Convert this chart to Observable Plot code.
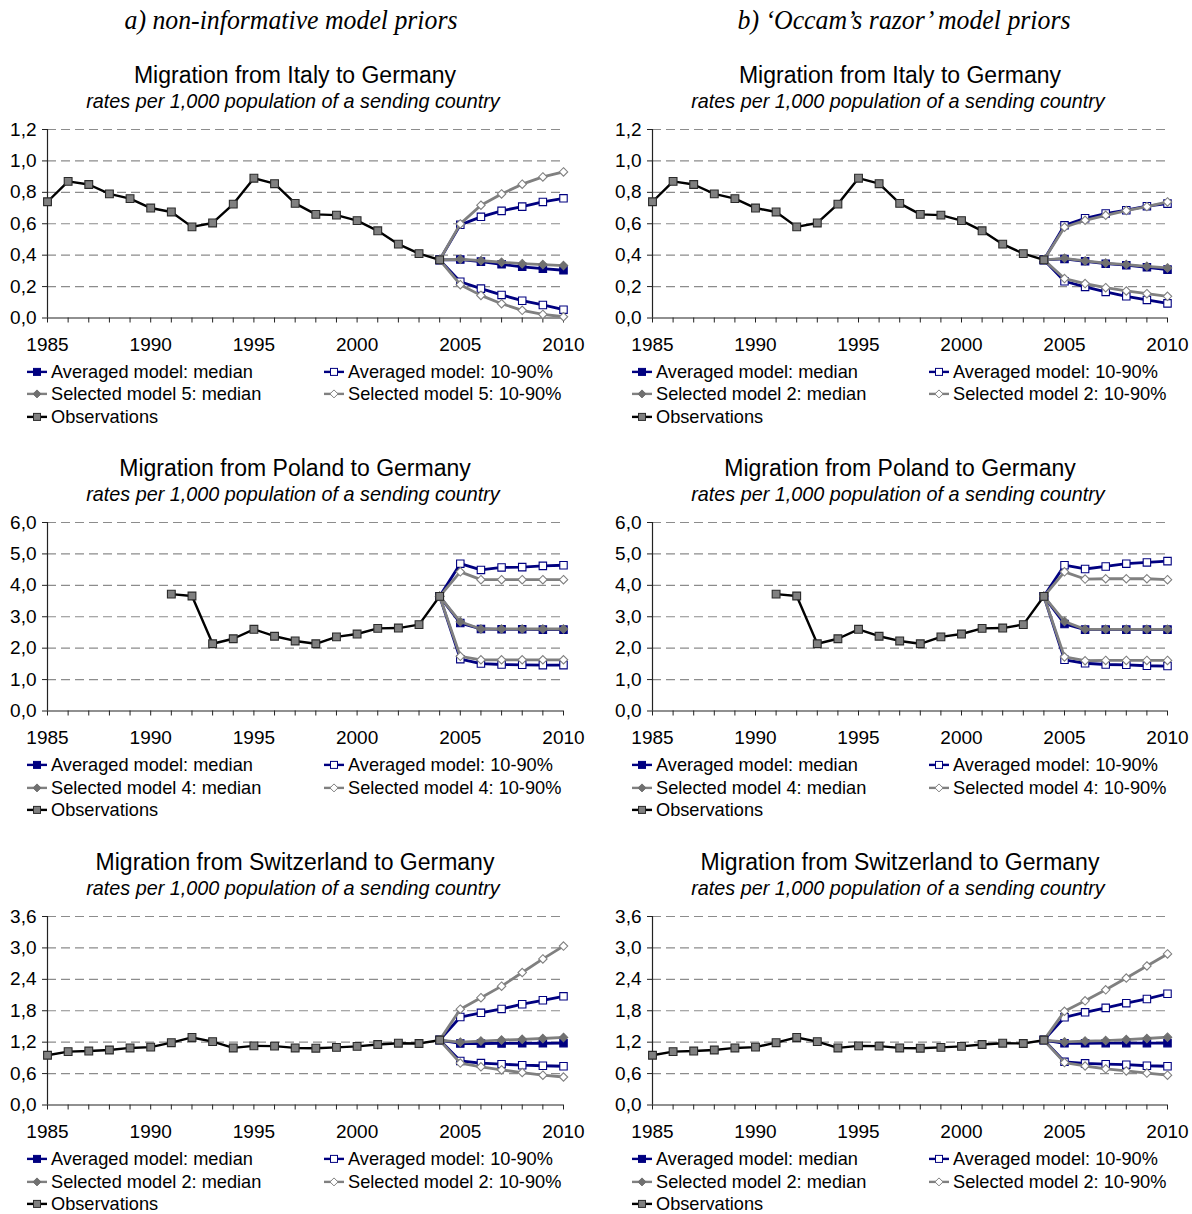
<!DOCTYPE html>
<html>
<head>
<meta charset="utf-8">
<script src="https://cdn.jsdelivr.net/npm/d3@7"></script>
<script src="https://cdn.jsdelivr.net/npm/@observablehq/plot@0.6"></script>
<style>
  body { margin: 0; background: #fff; }
  #page { position: relative; width: 1192px; height: 1214px; overflow: hidden;
          font-family: "Liberation Sans", Arial, sans-serif; color: #000; }
  .abs { position: absolute; }
  .title { font-size: 23px; white-space: nowrap; transform: translate(-50%, -50%); line-height: 1; }
  .subtitle { font-size: 19.8px; font-style: italic; white-space: nowrap; transform: translate(-50%, -50%); line-height: 1; }
  .legend-item { font-size: 18.2px; white-space: nowrap; display: flex; align-items: center; transform: translateY(-50%); line-height: 1; }
  .legend-item svg { margin-right: 4px; }
</style>
</head>
<body>
<div id="page"></div>
<script>
// Years
const obsYears = [1985, 1986, 1987, 1988, 1989, 1990, 1991, 1992, 1993, 1994,
                  1995, 1996, 1997, 1998, 1999, 2000, 2001, 2002, 2003, 2004];
const fcYears = [2005, 2006, 2007, 2008, 2009, 2010];
const allYears = [1985, 1986, 1987, 1988, 1989, 1990, 1991, 1992, 1993, 1994, 1995, 1996, 1997,
                  1998, 1999, 2000, 2001, 2002, 2003, 2004, 2005, 2006, 2007, 2008, 2009, 2010];

// Observed rates per 1,000 population
const italyObs  = [0.74, 0.87, 0.85, 0.79, 0.76, 0.70, 0.675, 0.58, 0.605, 0.725,
                   0.89, 0.855, 0.73, 0.66, 0.655, 0.62, 0.555, 0.47, 0.41, 0.37];
const polandObs = [null, null, null, null, null, null, 3.72, 3.66, 2.14, 2.30,
                   2.60, 2.38, 2.23, 2.14, 2.36, 2.45, 2.63, 2.64, 2.75, 3.65];
const swissObs  = [0.95, 1.02, 1.03, 1.05, 1.09, 1.105, 1.19, 1.29, 1.21, 1.09,
                   1.13, 1.125, 1.09, 1.085, 1.10, 1.12, 1.155, 1.18, 1.175, 1.24];

// Forecasts 2005-2010: Italy, non-informative priors
const italyA_avgMed = [0.372, 0.359, 0.342, 0.326, 0.314, 0.304];
const italyA_avgLo  = [0.231, 0.187, 0.147, 0.110, 0.083, 0.053];
const italyA_avgHi  = [0.593, 0.644, 0.682, 0.709, 0.739, 0.762];
const italyA_selMed = [0.374, 0.365, 0.355, 0.346, 0.340, 0.334];
const italyA_selLo  = [0.212, 0.144, 0.091, 0.049, 0.023, 0.008];
const italyA_selHi  = [0.599, 0.718, 0.790, 0.852, 0.898, 0.930];
// Italy, Occam's razor priors
const italyB_avgMed = [0.376, 0.361, 0.346, 0.336, 0.323, 0.308];
const italyB_avgLo  = [0.234, 0.198, 0.166, 0.138, 0.115, 0.093];
const italyB_avgHi  = [0.590, 0.635, 0.665, 0.686, 0.712, 0.728];
const italyB_selMed = [0.380, 0.363, 0.350, 0.340, 0.329, 0.319];
const italyB_selLo  = [0.251, 0.219, 0.193, 0.172, 0.155, 0.138];
const italyB_selHi  = [0.578, 0.622, 0.654, 0.684, 0.709, 0.739];

// Poland, non-informative priors
const polandA_avgMed = [2.80, 2.61, 2.60, 2.60, 2.59, 2.59];
const polandA_avgLo  = [1.65, 1.51, 1.48, 1.47, 1.46, 1.46];
const polandA_avgHi  = [4.69, 4.49, 4.57, 4.58, 4.62, 4.64];
const polandA_selMed = [2.84, 2.61, 2.61, 2.61, 2.61, 2.61];
const polandA_selLo  = [1.74, 1.63, 1.63, 1.63, 1.63, 1.63];
const polandA_selHi  = [4.43, 4.18, 4.18, 4.18, 4.18, 4.18];
// Poland, Occam's razor priors
const polandB_avgMed = [2.77, 2.59, 2.59, 2.59, 2.59, 2.59];
const polandB_avgLo  = [1.63, 1.52, 1.48, 1.47, 1.44, 1.43];
const polandB_avgHi  = [4.64, 4.52, 4.60, 4.69, 4.73, 4.77];
const polandB_selMed = [2.85, 2.60, 2.60, 2.60, 2.60, 2.60];
const polandB_selLo  = [1.72, 1.60, 1.61, 1.61, 1.61, 1.61];
const polandB_selHi  = [4.43, 4.20, 4.21, 4.21, 4.21, 4.18];

// Switzerland, non-informative priors
const swissA_avgMed = [1.175, 1.175, 1.176, 1.178, 1.179, 1.181];
const swissA_avgLo  = [0.84, 0.80, 0.78, 0.76, 0.75, 0.74];
const swissA_avgHi  = [1.68, 1.76, 1.835, 1.925, 2.00, 2.075];
const swissA_selMed = [1.20, 1.22, 1.24, 1.255, 1.27, 1.29];
const swissA_selLo  = [0.80, 0.73, 0.67, 0.62, 0.57, 0.535];
const swissA_selHi  = [1.83, 2.05, 2.27, 2.53, 2.79, 3.035];
// Switzerland, Occam's razor priors
const swissB_avgMed = [1.178, 1.179, 1.180, 1.181, 1.181, 1.182];
const swissB_avgLo  = [0.825, 0.795, 0.78, 0.77, 0.75, 0.74];
const swissB_avgHi  = [1.675, 1.77, 1.855, 1.945, 2.025, 2.125];
const swissB_selMed = [1.205, 1.22, 1.23, 1.25, 1.27, 1.295];
const swissB_selLo  = [0.81, 0.745, 0.69, 0.65, 0.61, 0.57];
const swissB_selHi  = [1.79, 1.99, 2.20, 2.425, 2.655, 2.885];

// Y axis ticks per country
const italyTicks  = [0, 0.2, 0.4, 0.6, 0.8, 1.0, 1.2];
const polandTicks = [0, 1, 2, 3, 4, 5, 6];
const swissTicks  = [0, 0.6, 1.2, 1.8, 2.4, 3.0, 3.6];

const columnHeaders = ["a) non-informative model priors", "b) \u2018Occam\u2019s razor\u2019 model priors"];
const subtitleText = "rates per 1,000 population of a sending country";

// Styles
const NAVY = "#000080", GREY = "#808080", DIAMOND = "#707070";
const styleAvgMed = {line: NAVY, symbol: "square", fill: NAVY, dotStroke: NAVY};
const styleAvgBand = {line: NAVY, symbol: "square", fill: "#fff", dotStroke: NAVY};
const styleSelMed = {line: GREY, symbol: "diamond2", fill: DIAMOND, dotStroke: DIAMOND};
const styleSelBand = {line: GREY, symbol: "diamond2", fill: "#fff", dotStroke: GREY};
const styleObs = {line: "#000", symbol: "square", fill: "#808080", dotStroke: "#2a2a2a"};

const panels = [
  {col: 0, row: 0, country: "Italy", obs: italyObs, ticks: italyTicks, model: 5,
   avgMed: italyA_avgMed, avgLo: italyA_avgLo, avgHi: italyA_avgHi, selMed: italyA_selMed, selLo: italyA_selLo, selHi: italyA_selHi},
  {col: 1, row: 0, country: "Italy", obs: italyObs, ticks: italyTicks, model: 2,
   avgMed: italyB_avgMed, avgLo: italyB_avgLo, avgHi: italyB_avgHi, selMed: italyB_selMed, selLo: italyB_selLo, selHi: italyB_selHi},
  {col: 0, row: 1, country: "Poland", obs: polandObs, ticks: polandTicks, model: 4,
   avgMed: polandA_avgMed, avgLo: polandA_avgLo, avgHi: polandA_avgHi, selMed: polandA_selMed, selLo: polandA_selLo, selHi: polandA_selHi},
  {col: 1, row: 1, country: "Poland", obs: polandObs, ticks: polandTicks, model: 4,
   avgMed: polandB_avgMed, avgLo: polandB_avgLo, avgHi: polandB_avgHi, selMed: polandB_selMed, selLo: polandB_selLo, selHi: polandB_selHi},
  {col: 0, row: 2, country: "Switzerland", obs: swissObs, ticks: swissTicks, model: 2,
   avgMed: swissA_avgMed, avgLo: swissA_avgLo, avgHi: swissA_avgHi, selMed: swissA_selMed, selLo: swissA_selLo, selHi: swissA_selHi},
  {col: 1, row: 2, country: "Switzerland", obs: swissObs, ticks: swissTicks, model: 2,
   avgMed: swissB_avgMed, avgLo: swissB_avgLo, avgHi: swissB_avgHi, selMed: swissB_selMed, selLo: swissB_selLo, selHi: swissB_selHi}
];

// Layout
const colLeft = [0, 605];
const colWidth = [590, 589];
const plotTop = [128.5, 522.3, 916];
const MARGIN_TOP = 10, PLOT_H = 188.5, MARGIN_BOTTOM = 42;
const MARGIN_LEFT = 47, MARGIN_RIGHT = 27;

const page = document.getElementById("page");
const fmt = d => d.toFixed(1).replace(".", ",");

// Forecast series start from the last observed value (2004)
function forecastRows(p, values) {
  const last = p.obs[p.obs.length - 1];
  return [{year: 2004, value: last}].concat(fcYears.map((y, i) => ({year: y, value: values[i]})));
}

function seriesMarks(rows, s, lineWidth, r) {
  return [
    Plot.line(rows, {x: "year", y: "value", stroke: s.line, strokeWidth: lineWidth, curve: "linear"}),
    Plot.dot(rows.filter(d => d.value != null), {x: "year", y: "value", symbol: () => s.symbol, r,
      fill: s.fill, stroke: s.dotStroke, strokeWidth: 1.1})
  ];
}

function drawPanel(p) {
  const obsRows = obsYears.map((y, i) => ({year: y, value: p.obs[i]}));
  const ymax = p.ticks[p.ticks.length - 1];
  const chart = Plot.plot({
    width: colWidth[p.col],
    height: MARGIN_TOP + PLOT_H + MARGIN_BOTTOM,
    marginLeft: MARGIN_LEFT, marginRight: MARGIN_RIGHT,
    marginTop: MARGIN_TOP, marginBottom: MARGIN_BOTTOM,
    x: {domain: [1985, 2010]},
    y: {domain: [0, ymax]},
    style: {fontFamily: "'Liberation Sans', Arial, sans-serif", fontSize: "19px", color: "#000",
            background: "transparent", overflow: "visible"},
    marks: [
      Plot.gridY(p.ticks.filter(t => t > 0), {stroke: "#8c8c8c", strokeOpacity: 1, strokeWidth: 1.2, strokeDasharray: "9,5"}),
      Plot.axisY(p.ticks, {tickSize: 5, tickPadding: 6, tickFormat: fmt, label: null, stroke: "#222", fill: "#000"}),
      Plot.axisX(allYears, {tickSize: 5, tickPadding: 14, tickFormat: d => d % 5 === 0 ? String(d) : "", label: null, stroke: "#222", fill: "#000"}),
      Plot.ruleX([1985], {stroke: "#222", strokeWidth: 1.2}),
      Plot.ruleY([0], {stroke: "#222", strokeWidth: 1.2}),
      ...seriesMarks(forecastRows(p, p.avgMed), styleAvgMed, 2.8, 4.2),
      ...seriesMarks(forecastRows(p, p.avgLo), styleAvgBand, 2.8, 4.2),
      ...seriesMarks(forecastRows(p, p.avgHi), styleAvgBand, 2.8, 4.2),
      ...seriesMarks(forecastRows(p, p.selMed), styleSelMed, 2.8, 3.8),
      ...seriesMarks(forecastRows(p, p.selLo), styleSelBand, 2.8, 3.8),
      ...seriesMarks(forecastRows(p, p.selHi), styleSelBand, 2.8, 3.8),
      ...seriesMarks(obsRows, styleObs, 2.4, 4.4)
    ]
  });
  chart.style.position = "absolute";
  chart.style.left = colLeft[p.col] + "px";
  chart.style.top = (plotTop[p.row] - MARGIN_TOP) + "px";
  page.appendChild(chart);

  const cx = colLeft[p.col] + 294;
  const t = document.createElement("div");
  t.className = "abs title";
  t.style.left = (cx + 1) + "px"; t.style.top = (plotTop[p.row] - 54) + "px";
  t.textContent = `Migration from ${p.country} to Germany`;
  page.appendChild(t);
  const st = document.createElement("div");
  st.className = "abs subtitle";
  st.style.left = (cx - 1) + "px"; st.style.top = (plotTop[p.row] - 27) + "px";
  st.textContent = subtitleText;
  page.appendChild(st);

  // Legend
  const items = [
    {label: "Averaged model: median", s: styleAvgMed, lx: 27, ly: 0},
    {label: "Averaged model: 10-90%", s: styleAvgBand, lx: 324, ly: 0},
    {label: `Selected model ${p.model}: median`, s: styleSelMed, lx: 27, ly: 1},
    {label: `Selected model ${p.model}: 10-90%`, s: styleSelBand, lx: 324, ly: 1},
    {label: "Observations", s: styleObs, lx: 27, ly: 2}
  ];
  for (const it of items) {
    const div = document.createElement("div");
    div.className = "abs legend-item";
    div.style.left = (colLeft[p.col] + it.lx) + "px";
    div.style.top = (plotTop[p.row] + 243 + it.ly * 22.5) + "px";
    const sym = d3.create("svg").attr("width", 20).attr("height", 12);
    sym.append("line").attr("x1", 0).attr("x2", 20).attr("y1", 6).attr("y2", 6)
      .attr("stroke", it.s.line).attr("stroke-width", 2.4);
    if (it.s.symbol === "square") {
      sym.append("rect").attr("x", 6.5).attr("y", 2.5).attr("width", 7).attr("height", 7)
        .attr("fill", it.s.fill).attr("stroke", it.s.dotStroke).attr("stroke-width", 1);
    } else {
      sym.append("path").attr("d", "M10,2 L14,6 L10,10 L6,6 Z")
        .attr("fill", it.s.fill).attr("stroke", it.s.dotStroke).attr("stroke-width", 1);
    }
    div.appendChild(sym.node());
    const span = document.createElement("span");
    span.textContent = it.label;
    div.appendChild(span);
    page.appendChild(div);
  }
}

panels.forEach(drawPanel);

// Column headers
const hdr = d3.create("svg").attr("width", 1192).attr("height", 45)
  .style("position", "absolute").style("left", "0px").style("top", "0px");
const hdrX = [291, 904];
columnHeaders.forEach((h, i) => {
  hdr.append("text").attr("x", hdrX[i]).attr("y", 29).attr("text-anchor", "middle")
    .attr("font-family", "'Liberation Serif', 'DejaVu Serif', serif").attr("font-style", "italic")
    .attr("font-size", 28).attr("textLength", 333).attr("lengthAdjust", "spacingAndGlyphs")
    .text(h);
});
page.appendChild(hdr.node());
</script>
</body>
</html>
